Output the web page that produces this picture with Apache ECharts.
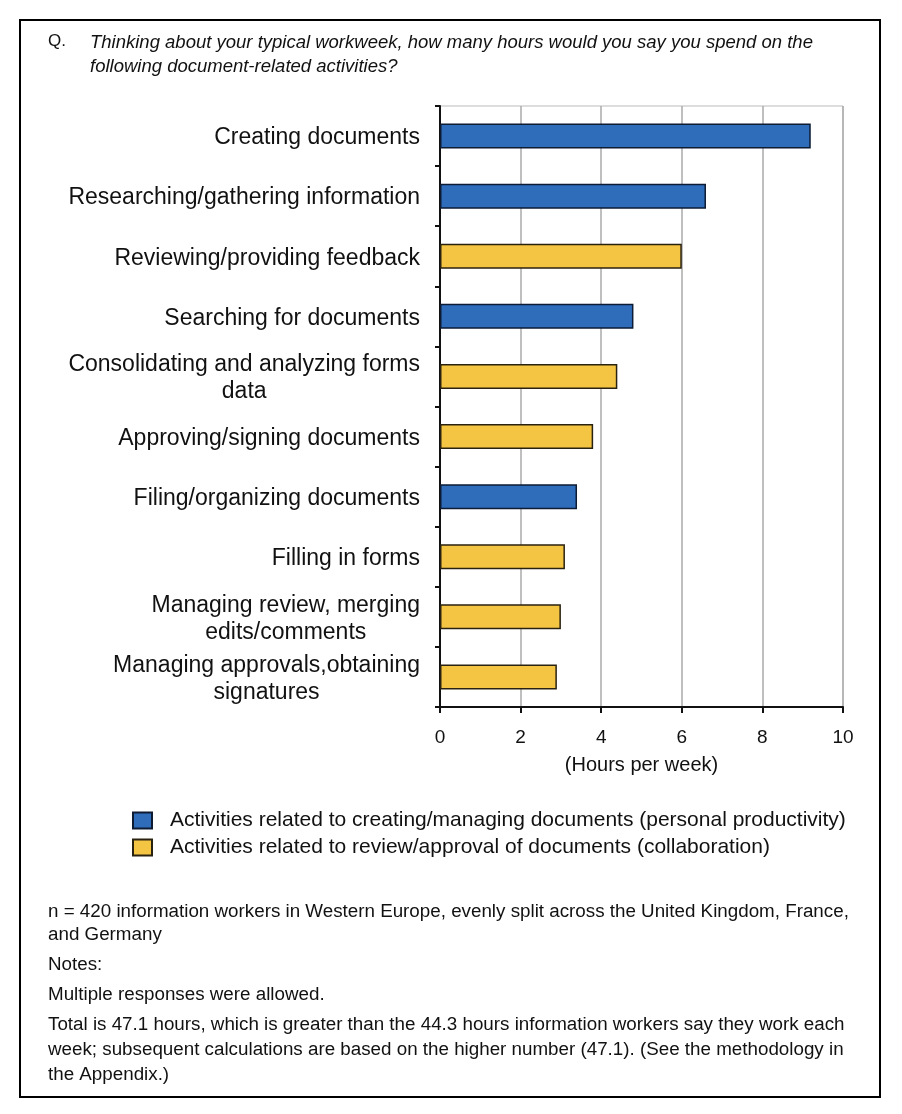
<!DOCTYPE html>
<html>
<head>
<meta charset="utf-8">
<script src="https://cdn.jsdelivr.net/npm/echarts@6/dist/echarts.min.js"></script>
<style>
  html, body { margin: 0; padding: 0; background: #fff; }
  #chart { width: 902px; height: 1114px; }
</style>
</head>
<body>
<div id="chart"></div>
<script>
var categories = [
    'Creating documents',
    'Researching/gathering information',
    'Reviewing/providing feedback',
    'Searching for documents',
    'Consolidating and analyzing forms\ndata',
    'Approving/signing documents',
    'Filing/organizing documents',
    'Filling in forms',
    'Managing review, merging\nedits/comments',
    'Managing approvals,obtaining\nsignatures'
];
// hours per week, '-' where the activity belongs to the other group
var personalValues = [9.2, 6.6, '-', 4.8, '-', '-', 3.4, '-', '-', '-'];
var collabValues = ['-', '-', 6.0, '-', 4.4, 3.8, '-', 3.1, 3.0, 2.9];
var xTicks = [0, 2, 4, 6, 8, 10];

var personalName = 'Activities related to creating/managing documents (personal productivity)';
var collabName = 'Activities related to review/approval of documents (collaboration)';

var questionLines = [
    'Thinking about your typical workweek, how many hours would you say you spend on the',
    'following document-related activities?'
];
var noteLines = [
    'n = 420 information workers in Western Europe, evenly split across the United Kingdom, France,',
    'and Germany',
    'Notes:',
    'Multiple responses were allowed.',
    'Total is 47.1 hours, which is greater than the 44.3 hours information workers say they work each',
    'week; subsequent calculations are based on the higher number (47.1). (See the methodology in',
    'the Appendix.)'
];
var noteY = [912, 935, 965, 995, 1025, 1050, 1075];

var FONT = '"Liberation Sans", Arial, Helvetica, sans-serif';
var myChart = echarts.init(document.getElementById('chart'));

var graphics = [
    {
        type: 'rect',
        shape: { x: 20, y: 20, width: 860, height: 1077 },
        style: { fill: 'none', stroke: '#000', lineWidth: 2 }
    },
    {
        type: 'text', left: 48, top: 33,
        style: { text: 'Q.', font: '17px ' + FONT, fill: '#111' }
    }
];
questionLines.forEach(function (line, i) {
    graphics.push({
        type: 'text', left: 90, top: 33 + i * 24,
        style: { text: line, font: 'italic 18.5px ' + FONT, fill: '#111' }
    });
});
noteLines.forEach(function (line, i) {
    graphics.push({
        type: 'text', left: 48, top: noteY[i] - 10,
        style: { text: line, font: '18.8px ' + FONT, fill: '#111' }
    });
});

var option = {
    animation: false,
    backgroundColor: '#fff',
    textStyle: { fontFamily: FONT },
    graphic: graphics,
    legend: {
        orient: 'vertical',
        left: 132,
        top: 810,
        padding: 0,
        itemWidth: 19,
        itemHeight: 16,
        itemGap: 6,
        icon: 'rect',
        selectedMode: false,
        textStyle: { fontSize: 21, lineHeight: 20, color: '#111', fontFamily: FONT, padding: [0, 0, 0, 13] },
        data: [personalName, collabName]
    },
    grid: {
        left: 440,
        right: 59,
        top: 106,
        bottom: 407,
        show: true,
        borderColor: '#bbb',
        borderWidth: 1
    },
    xAxis: {
        type: 'value',
        min: 0,
        max: 10,
        interval: 2,
        name: '(Hours per week)',
        nameLocation: 'middle',
        nameGap: 48,
        nameTextStyle: { fontSize: 20, color: '#111', fontFamily: FONT },
        axisLine: { show: true, lineStyle: { color: '#111', width: 2 } },
        axisTick: { show: true, length: 6, lineStyle: { color: '#111', width: 2 } },
        axisLabel: {
            fontSize: 19, color: '#111', margin: 21,
            formatter: function (v) { return xTicks.indexOf(v) >= 0 ? String(v) : ''; }
        },
        splitLine: { show: true, lineStyle: { color: '#aaa', width: 1.5 } }
    },
    yAxis: {
        type: 'category',
        inverse: true,
        data: categories,
        axisLine: { show: true, lineStyle: { color: '#111', width: 2 } },
        axisTick: { show: true, alignWithLabel: false, length: 5, lineStyle: { color: '#111', width: 2 } },
        axisLabel: {
            interval: 0,
            margin: 20,
            align: 'right',
            fontSize: 23,
            lineHeight: 27,
            color: '#111',
            padding: [4, 0, 0, 0],
            formatter: function (value) {
                var lines = value.split('\n');
                if (lines.length < 2) return value;
                return lines.map(function (l) { return '{c|' + l + '}'; }).join('\n');
            },
            rich: {
                c: { align: 'center', fontSize: 23, lineHeight: 27, color: '#111', fontFamily: FONT }
            }
        }
    },
    series: [
        {
            name: personalName,
            type: 'bar',
            data: personalValues,
            barWidth: 25,
            barGap: '-100%',
            itemStyle: { color: '#2f6dbb', borderColor: '#0d1b33', borderWidth: 1.5 }
        },
        {
            name: collabName,
            type: 'bar',
            data: collabValues,
            barWidth: 25,
            barGap: '-100%',
            itemStyle: { color: '#f4c443', borderColor: '#2a2210', borderWidth: 1.5 }
        }
    ]
};
myChart.setOption(option);
</script>
</body>
</html>
